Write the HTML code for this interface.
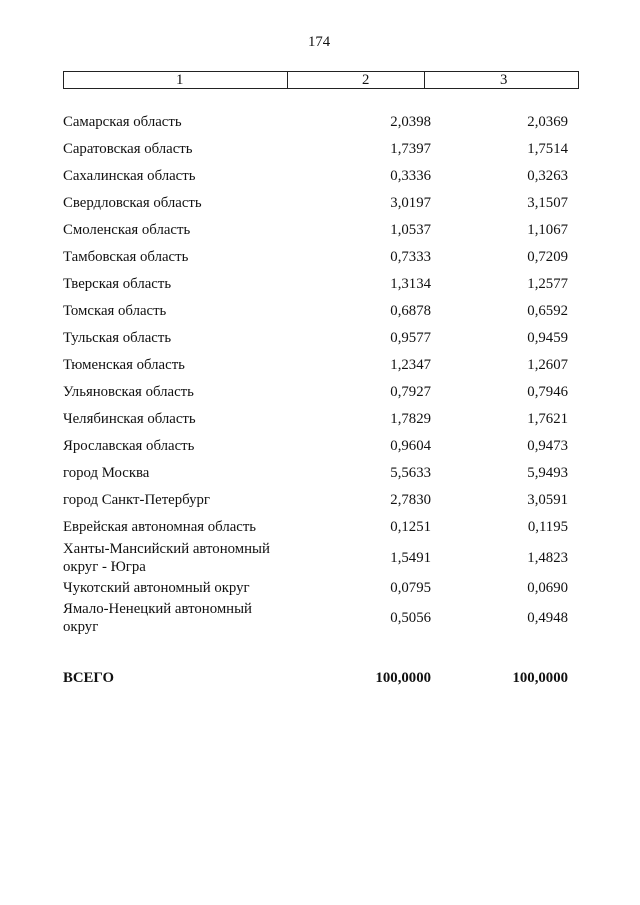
<!DOCTYPE html>
<html><head><meta charset="utf-8"><style>
body{margin:0;width:640px;height:905px;background:#fff;position:relative;font-family:"Liberation Serif","Noto Serif CJK SC",serif;font-size:14.8px;color:#111;}
.t{position:absolute;white-space:nowrap;line-height:18px;}
.l{left:63px;}
.a{right:209px;text-align:right;}
.b{right:72px;text-align:right;}
.box{position:absolute;left:63px;top:71px;width:514px;height:16px;border:1.5px solid #222;}
.d{position:absolute;top:0;height:16px;border-left:1px solid #222;}
</style></head><body>
<div class="t" style="left:308px;top:33px;">174</div>
<div class="box"><div class="d" style="left:223px"></div><div class="d" style="left:360px"></div>
<div class="t" style="left:112px;top:-1px;">1</div>
<div class="t" style="left:298px;top:-1px;">2</div>
<div class="t" style="left:436px;top:-1px;">3</div></div>
<div class="t l" style="top:113px">Самарская область</div><div class="t a" style="top:113px">2,0398</div><div class="t b" style="top:113px">2,0369</div>
<div class="t l" style="top:140px">Саратовская область</div><div class="t a" style="top:140px">1,7397</div><div class="t b" style="top:140px">1,7514</div>
<div class="t l" style="top:167px">Сахалинская область</div><div class="t a" style="top:167px">0,3336</div><div class="t b" style="top:167px">0,3263</div>
<div class="t l" style="top:194px">Свердловская область</div><div class="t a" style="top:194px">3,0197</div><div class="t b" style="top:194px">3,1507</div>
<div class="t l" style="top:221px">Смоленская область</div><div class="t a" style="top:221px">1,0537</div><div class="t b" style="top:221px">1,1067</div>
<div class="t l" style="top:248px">Тамбовская область</div><div class="t a" style="top:248px">0,7333</div><div class="t b" style="top:248px">0,7209</div>
<div class="t l" style="top:275px">Тверская область</div><div class="t a" style="top:275px">1,3134</div><div class="t b" style="top:275px">1,2577</div>
<div class="t l" style="top:302px">Томская область</div><div class="t a" style="top:302px">0,6878</div><div class="t b" style="top:302px">0,6592</div>
<div class="t l" style="top:329px">Тульская область</div><div class="t a" style="top:329px">0,9577</div><div class="t b" style="top:329px">0,9459</div>
<div class="t l" style="top:356px">Тюменская область</div><div class="t a" style="top:356px">1,2347</div><div class="t b" style="top:356px">1,2607</div>
<div class="t l" style="top:383px">Ульяновская область</div><div class="t a" style="top:383px">0,7927</div><div class="t b" style="top:383px">0,7946</div>
<div class="t l" style="top:410px">Челябинская область</div><div class="t a" style="top:410px">1,7829</div><div class="t b" style="top:410px">1,7621</div>
<div class="t l" style="top:437px">Ярославская область</div><div class="t a" style="top:437px">0,9604</div><div class="t b" style="top:437px">0,9473</div>
<div class="t l" style="top:464px">город Москва</div><div class="t a" style="top:464px">5,5633</div><div class="t b" style="top:464px">5,9493</div>
<div class="t l" style="top:491px">город Санкт-Петербург</div><div class="t a" style="top:491px">2,7830</div><div class="t b" style="top:491px">3,0591</div>
<div class="t l" style="top:518px">Еврейская автономная область</div><div class="t a" style="top:518px">0,1251</div><div class="t b" style="top:518px">0,1195</div>
<div class="t l" style="top:540px">Ханты-Мансийский автономный</div>
<div class="t l" style="top:558px">округ - Югра</div><div class="t a" style="top:549px">1,5491</div><div class="t b" style="top:549px">1,4823</div>
<div class="t l" style="top:579px">Чукотский автономный округ</div><div class="t a" style="top:579px">0,0795</div><div class="t b" style="top:579px">0,0690</div>
<div class="t l" style="top:600px">Ямало-Ненецкий автономный</div>
<div class="t l" style="top:618px">округ</div><div class="t a" style="top:609px">0,5056</div><div class="t b" style="top:609px">0,4948</div>
<div class="t l" style="top:669px;font-weight:bold">ВСЕГО</div><div class="t a" style="top:669px;font-weight:bold">100,0000</div><div class="t b" style="top:669px;font-weight:bold">100,0000</div>
</body></html>
